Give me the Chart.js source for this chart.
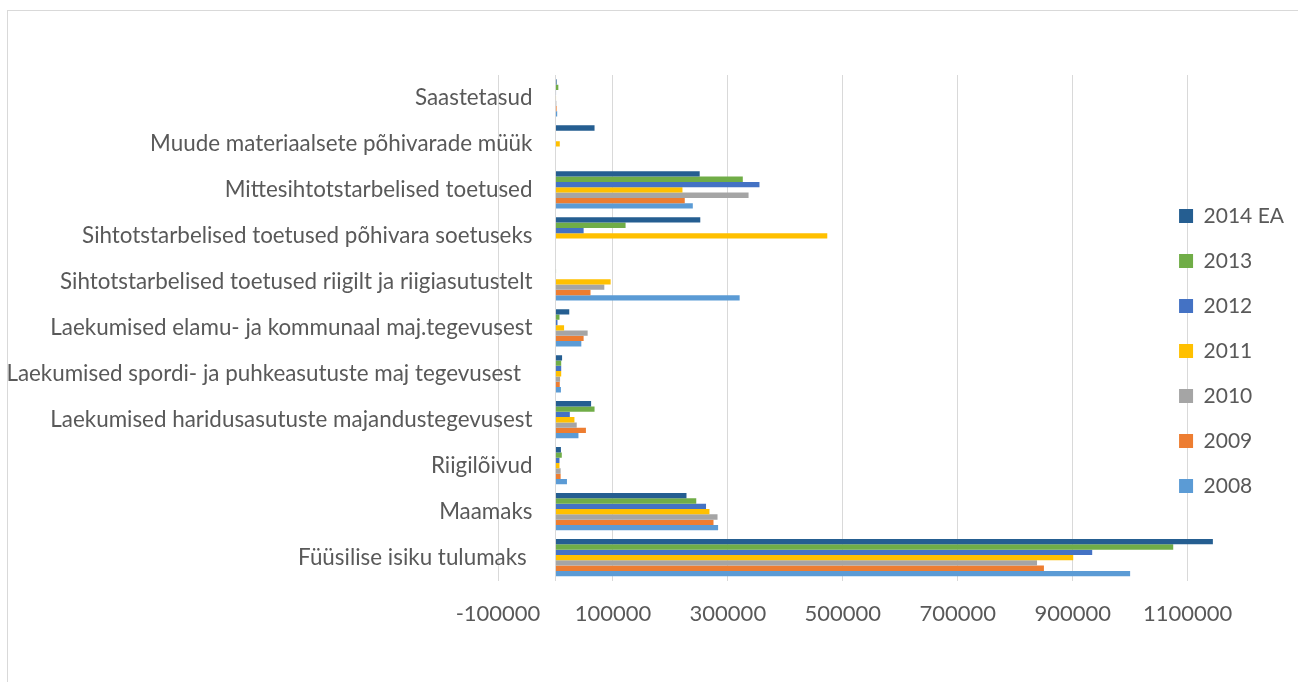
<!DOCTYPE html>
<html>
<head>
<meta charset="utf-8">
<script src="https://cdn.jsdelivr.net/npm/chart.js@4"></script>
<style>
  html, body { margin: 0; padding: 0; background: #fff; }
  .frame {
    position: absolute; left: 7px; top: 10px;
    width: 1400px; height: 800px;
    border: 1px solid #d9d9d9;
  }
  .wrap { position: absolute; left: 0; top: 0; width: 1298px; height: 682px; }
</style>
</head>
<body>
<div class="frame"></div>
<div class="wrap"><canvas id="tuludChart"></canvas></div>
<script>
// ===============================
// DATA
// ===============================
const categories = [
  "Saastetasud",
  "Muude materiaalsete põhivarade müük",
  "Mittesihtotstarbelised toetused",
  "Sihtotstarbelised toetused põhivara soetuseks",
  "Sihtotstarbelised toetused riigilt ja riigiasutustelt",
  "Laekumised elamu- ja kommunaal maj.tegevusest",
  "Laekumised spordi- ja puhkeasutuste maj tegevusest  ",
  "Laekumised haridusasutuste majandustegevusest",
  "Riigilõivud",
  "Maamaks",
  "Füüsilise isiku tulumaks "
];

const years = ["2014 EA", "2013", "2012", "2011", "2010", "2009", "2008"];

const values2014 = [2000, 68000, 251000, 252000, 0, 24000, 11500, 62000, 9500, 228000, 1144000];
const values2013 = [5000, 0, 326000, 122000, 1000, 7000, 10000, 68000, 11000, 245000, 1075000];
const values2012 = [1000, 0, 355000, 49000, 0, 3500, 10000, 25000, 7000, 262000, 934000];
const values2011 = [1000, 7500, 221000, 473000, 96000, 15000, 10000, 33000, 7000, 268000, 901000];
const values2010 = [1500, 0, 336000, 0, 85000, 56000, 8000, 37000, 9000, 282000, 838000];
const values2009 = [2000, 0, 225000, 0, 61000, 49000, 7500, 53000, 9000, 275000, 850000];
const values2008 = [3000, 0, 239000, 0, 320500, 45000, 9500, 40000, 20000, 283000, 1000000];

// labelled ticks; the axis at 0 gets a gridline without a label
const tickValues = [-100000, 0, 100000, 300000, 500000, 700000, 900000, 1100000];

// ===============================
// STYLE
// ===============================
const colors = ["#255e91", "#70ad47", "#4472c4", "#ffc000", "#a5a5a5", "#ed7d31", "#5b9bd5"];
const seriesValues = [values2014, values2013, values2012, values2011, values2010, values2009, values2008];
const textColor = "#595959";
const gridColor = "#d9d9d9";

// legend sits over the right part of the plot, like in the original
const legendOverlap = {
  id: "legendOverlap",
  afterLayout(chart) {
    const lg = chart.legend;
    if (!lg) return;
    lg.left -= 90;
    lg.right -= 90;
    lg.top -= 10;
    lg.bottom -= 10;
  }
};

new Chart(document.getElementById("tuludChart"), {
  type: "bar",
  data: {
    labels: categories,
    datasets: years.map((y, i) => ({
      label: y,
      data: seriesValues[i],
      backgroundColor: colors[i],
      borderWidth: 0,
      barPercentage: 1,
      categoryPercentage: 0.81
    }))
  },
  options: {
    indexAxis: "y",
    responsive: true,
    maintainAspectRatio: false,
    animation: false,
    layout: { padding: { top: 75, bottom: 35, left: 498, right: -86 } },
    scales: {
      x: {
        min: -100000,
        max: 1200000,
        ticks: {
          color: textColor,
          font: { family: "Lato", size: 22 },
          padding: 20,
          maxRotation: 0,
          callback: v => (v === 0 ? "" : String(v))
        },
        afterBuildTicks: s => { s.ticks = tickValues.map(v => ({ value: v })); },
        grid: { color: gridColor, lineWidth: 1, drawTicks: false },
        border: { display: false }
      },
      y: {
        // labels end a little left of the zero axis
        position: { x: -40000 },
        ticks: { color: textColor, font: { family: "Lato", size: 22.4 }, autoSkip: false },
        grid: { display: false, drawTicks: false },
        border: { display: false }
      }
    },
    plugins: {
      legend: {
        position: "right",
        labels: {
          boxWidth: 14,
          boxHeight: 14,
          padding: 24,
          color: textColor,
          font: { family: "Lato", size: 21 }
        }
      },
      tooltip: { enabled: false }
    }
  },
  plugins: [legendOverlap]
});
</script>
</body>
</html>
